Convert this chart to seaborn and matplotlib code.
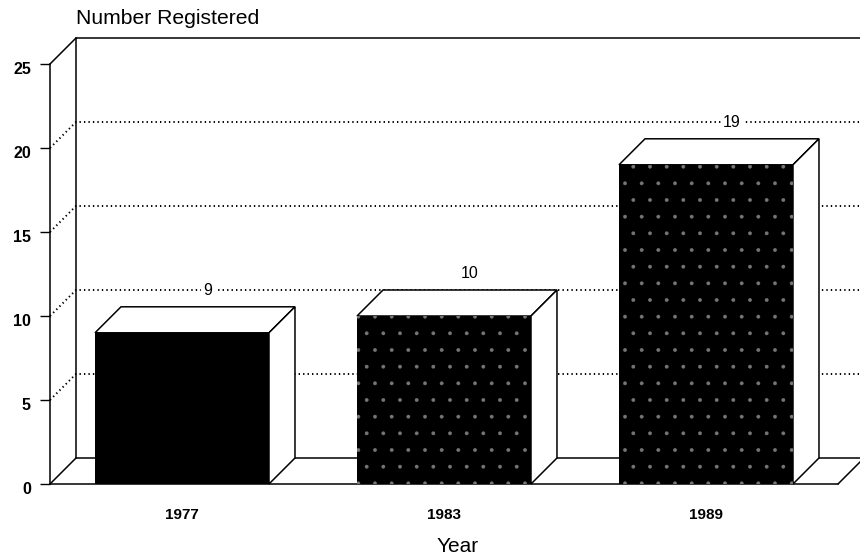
import matplotlib
matplotlib.use('Agg')
import matplotlib.pyplot as plt
from matplotlib.patches import Polygon
from matplotlib.transforms import ScaledTranslation
import seaborn as sns

years = ['1977', '1983', '1989']
registered = [9, 10, 19]
yticks = [0, 5, 10, 15, 20, 25]
grid_levels = [5, 10, 15, 20]
speckled = [False, True, True]

sns.set_style('white')
plt.rcParams['font.family'] = ['Liberation Sans', 'DejaVu Sans']
plt.rcParams['text.color'] = 'black'
plt.rcParams['xtick.labelcolor'] = 'black'
plt.rcParams['ytick.labelcolor'] = 'black'
plt.rcParams['hatch.linewidth'] = 0.3

W, H = 860, 554
fig = plt.figure(figsize=(W / 100, H / 100), dpi=100, facecolor='white')
# front plane of the fake 3d box, in pixels of the picture
ax = fig.add_axes([50 / W, (H - 484) / H, (W - 50) / W, 420 / H])

sns.barplot(x=years, y=registered, ax=ax, color='black', saturation=1, width=0.664,
            linewidth=0, zorder=3)

x0, x1 = (50 - 182) / 262, (860 - 182) / 262
floor_end = (838 - 182) / 262
ax.set_xlim(x0, x1)
ax.set_ylim(0, 25)
dx = 26 / 262    # depth of the box in data units
dy = 26 / 16.8

line = dict(color='black', lw=1.1, clip_on=False, solid_capstyle='round')

# back wall, floor and left wall
ax.plot([x0 + dx, x0 + dx], [dy, 25 + dy], zorder=1, **line)
ax.plot([x0 + dx, x1], [25 + dy, 25 + dy], zorder=1, **line)
ax.plot([x0 + dx, x1], [dy, dy], zorder=1, **line)
ax.plot([x0, x0 + dx], [0, dy], zorder=1, **line)
ax.plot([x0, x0 + dx], [25, 25 + dy], zorder=1, **line)
ax.plot([floor_end, floor_end + dx], [0, dy], zorder=1, **line)

for v in grid_levels:
    ax.plot([x0, x0 + dx, x1], [v, v + dy, v + dy], color='black', lw=1.4,
            linestyle=(0, (0.7, 1.6)), clip_on=False, zorder=1)

# top and side faces taken from the bars seaborn drew
for bar, val, spk in zip(ax.patches, registered, speckled):
    l, r = bar.get_x(), bar.get_x() + bar.get_width()
    h = bar.get_height()
    top = [(l, h), (r, h), (r + dx, h + dy), (l + dx, h + dy)]
    side = [(r, 0), (r + dx, dy), (r + dx, h + dy), (r, h)]
    for face in (top, side):
        ax.add_patch(Polygon(face, closed=True, facecolor='white', edgecolor='black',
                             lw=1.1, zorder=2, clip_on=False))
    if spk:
        bar.set_hatch('.')
        bar.set_edgecolor('#777777')
        bar.set_linewidth(0)
    ax.annotate(str(val), (bar.get_x() + bar.get_width() / 2, h), xytext=(26 * 0.72, 42 * 0.72),
                textcoords='offset points', ha='center', va='center', fontsize=11.5,
                bbox=dict(facecolor='white', edgecolor='none', pad=1.5), zorder=4)

for side in ['top', 'right']:
    ax.spines[side].set_visible(False)
ax.spines['left'].set_linewidth(1.1)
ax.spines['bottom'].set_linewidth(1.1)
ax.spines['left'].set_color('black')
ax.spines['bottom'].set_color('black')
ax.spines['bottom'].set_bounds(x0, floor_end)

ax.set_yticks(yticks)
ax.tick_params(axis='y', left=True, length=7.2, width=1, color='black', pad=6.5, labelsize=11.5)
ax.tick_params(axis='x', bottom=False, pad=14, labelsize=11)
for t in ax.get_yticklabels():
    t.set_transform(t.get_transform() + ScaledTranslation(0, -4 / 100, fig.dpi_scale_trans))
    t.set_fontweight('bold')
for t in ax.get_xticklabels():
    t.set_fontweight('bold')

ax.set_xlabel('')
ax.grid(False)
fig.text(76 / W, 1 - 19 / H, 'Number Registered', fontsize=15.2, ha='left', va='center')
fig.text(458 / W, 1 - 546 / H, 'Year', fontsize=15, ha='center', va='center')

fig.savefig('out.png', dpi=100, facecolor='white')
